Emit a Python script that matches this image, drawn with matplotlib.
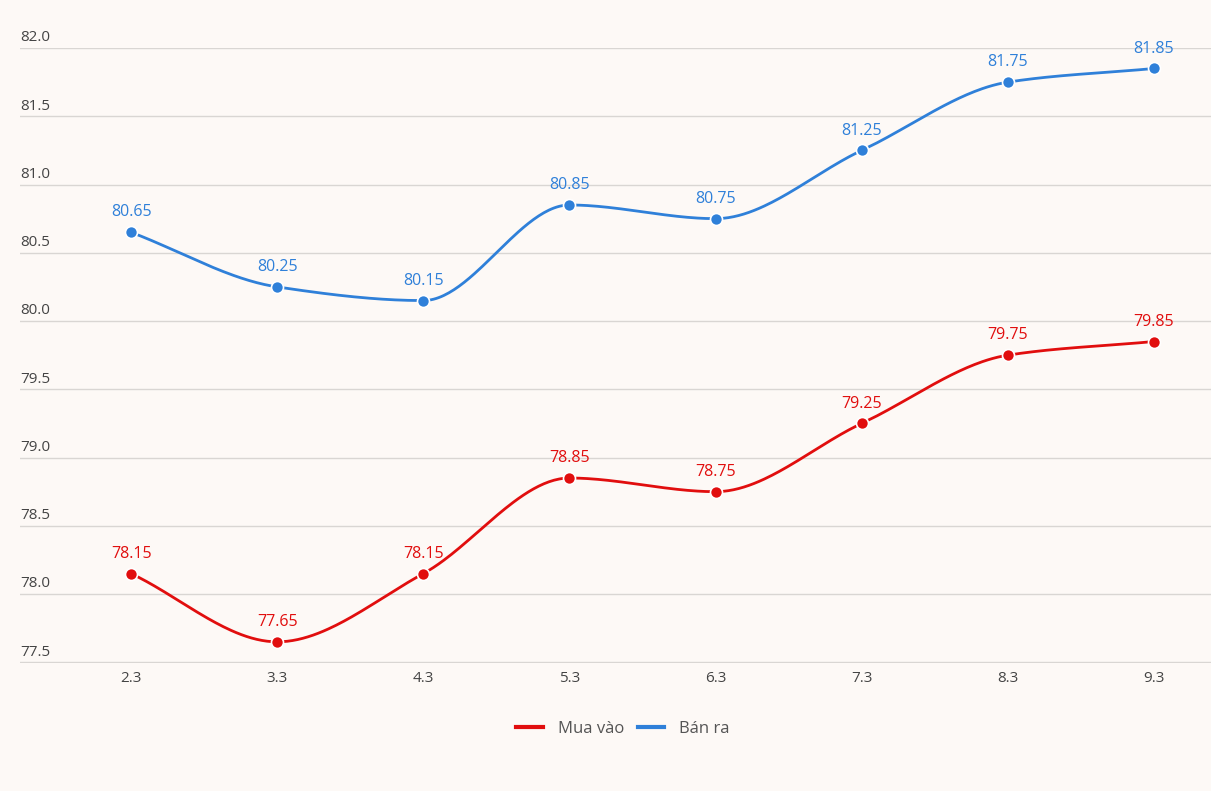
import numpy as np
import matplotlib.pyplot as plt
from matplotlib.lines import Line2D

# Data
days = ["2.3", "3.3", "4.3", "5.3", "6.3", "7.3", "8.3", "9.3"]
mua_vao = [78.15, 77.65, 78.15, 78.85, 78.75, 79.25, 79.75, 79.85]
ban_ra = [80.65, 80.25, 80.15, 80.85, 80.75, 81.25, 81.75, 81.85]
y_ticks = [77.5, 78.0, 78.5, 79.0, 79.5, 80.0, 80.5, 81.0, 81.5, 82.0]

RED = "#E10E0E"
BLUE = "#2F80D9"
BG = "#FDF9F6"


def pchip(x, y, n=400):
    # monotone cubic curve through the points (for drawing only)
    x = np.asarray(x, float)
    y = np.asarray(y, float)
    h = np.diff(x)
    d = np.diff(y) / h
    m = np.zeros_like(y)
    for k in range(1, len(y) - 1):
        if d[k - 1] * d[k] > 0:
            w1 = 2 * h[k] + h[k - 1]
            w2 = h[k] + 2 * h[k - 1]
            m[k] = (w1 + w2) / (w1 / d[k - 1] + w2 / d[k])
    m[0] = d[0]
    m[-1] = d[-1]
    xs = np.linspace(x[0], x[-1], n)
    idx = np.clip(np.searchsorted(x, xs) - 1, 0, len(x) - 2)
    t = (xs - x[idx]) / h[idx]
    h00 = 2 * t**3 - 3 * t**2 + 1
    h10 = t**3 - 2 * t**2 + t
    h01 = -2 * t**3 + 3 * t**2
    h11 = t**3 - t**2
    ys = h00 * y[idx] + h10 * h[idx] * m[idx] + h01 * y[idx + 1] + h11 * h[idx] * m[idx + 1]
    return xs, ys


plt.rcParams['font.family'] = ['Open Sans', 'DejaVu Sans']

fig = plt.figure(figsize=(12.11, 7.91), dpi=100, facecolor=BG)
ax = fig.add_axes([20 / 1211, 1 - 663 / 791, 1 - 20 / 1211, (663 - 48) / 791])
ax.set_facecolor(BG)

x = np.arange(len(days))
for vals, col in [(ban_ra, BLUE), (mua_vao, RED)]:
    xs, ys = pchip(x, vals)
    ax.plot(xs, ys, color=col, lw=2, zorder=3)
    ax.scatter(x, vals, s=75, color=col, edgecolor='white', linewidth=1.2, zorder=4)
    for xi, v in zip(x, vals):
        ax.annotate(f"{v:.2f}", (xi, v), xytext=(0, 8.5), textcoords='offset points',
                    ha='center', va='bottom', color=col, fontsize=11.5)

ax.set_xlim(-0.76, 7.39)
ax.set_ylim(77.495, 82.0)
ax.set_yticks(y_ticks)
ax.yaxis.grid(True, color='#D9D6D3', lw=1)
ax.set_yticklabels([])
ax.tick_params(axis='y', length=0)
for v in y_ticks:
    ax.text(0, v + 0.02, f"{v:.1f}", transform=ax.get_yaxis_transform(), ha='left', va='bottom',
            fontsize=11, color='#444444')
ax.set_xticks(x)
ax.set_xticklabels(days, fontsize=11, color='#444444')
ax.tick_params(axis='x', length=0, pad=6)
for s in ax.spines.values():
    s.set_visible(False)
ax.set_axisbelow(True)

handles = [Line2D([], [], color=RED, lw=3), Line2D([], [], color=BLUE, lw=3)]
fig.legend(handles, ["Mua vào", "Bán ra"], loc='center', bbox_to_anchor=(623 / 1211, 1 - 729 / 791),
           ncol=2, frameon=False, fontsize=12, handlelength=1.6, handletextpad=0.9,
           columnspacing=0.8, labelcolor='#555555')

fig.savefig("out.png", dpi=100, facecolor=BG)
